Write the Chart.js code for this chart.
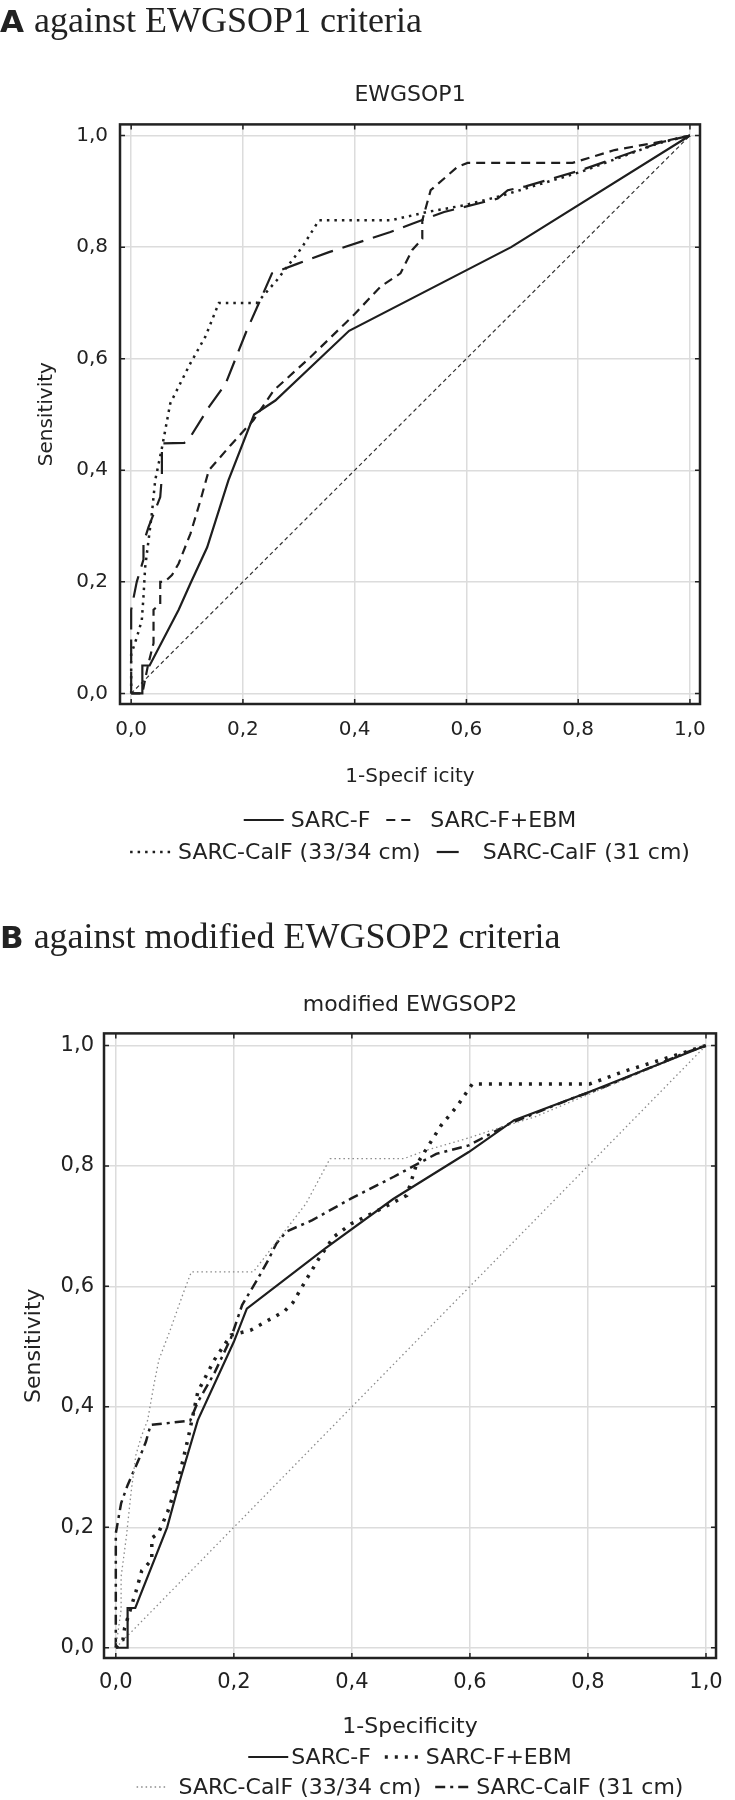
<!DOCTYPE html>
<html>
<head>
<meta charset="utf-8">
<script src="https://cdn.jsdelivr.net/npm/chart.js@4.4.0/dist/chart.umd.min.js"></script>
<style>
    body { margin: 0; background: #fff; width: 735px; height: 1800px; position: relative; overflow: hidden; }
    .head { position: absolute; left: 0; z-index: 2; font-family: 'Liberation Serif', serif; font-size: 36px; line-height: 40px; color: #222; white-space: nowrap; }
    .head b { font-family: 'DejaVu Sans', sans-serif; font-size: 31px; margin-right: 10px; }
    canvas { position: absolute; left: 0; }
</style>
</head>
<body>
<div class="head" style="top:0px"><b>A</b>against EWGSOP1 criteria</div>
<canvas id="chartA" width="735" height="880" style="top:0"></canvas>
<div class="head" style="top:916px"><b>B</b>against modified EWGSOP2 criteria</div>
<canvas id="chartB" width="735" height="900" style="top:900px"></canvas>

<script>
    // tick values (both axes, both charts)
    const tickVals = [0, 0.2, 0.4, 0.6, 0.8, 1.0];

    // A: against EWGSOP1 -- [1-specificity, sensitivity]
    const aSarcF = [[0,0],[0.02,0],[0.02,0.05],[0.033,0.05],[0.085,0.15],[0.106,0.197],[0.136,0.262],[0.174,0.382],
        [0.22,0.50],[0.258,0.525],[0.39,0.65],[0.68,0.80],[1,1]];
    const aSarcFEbm = [[0,0],[0.02,0],[0.03,0.05],[0.04,0.09],[0.04,0.15],[0.052,0.16],[0.052,0.2],[0.06,0.2],[0.073,0.212],
        [0.085,0.233],[0.106,0.286],[0.124,0.346],[0.139,0.40],[0.178,0.445],[0.219,0.49],[0.255,0.543],[0.321,0.603],
        [0.40,0.68],[0.446,0.729],[0.482,0.753],[0.503,0.795],[0.521,0.815],[0.521,0.848],[0.536,0.902],[0.584,0.944],
        [0.602,0.951],[0.79,0.951],[0.865,0.974],[0.954,0.99],[1,1]];
    const aCalf3334 = [[0,0],[0,0.07],[0.01,0.1],[0.019,0.131],[0.022,0.173],[0.025,0.226],[0.031,0.274],[0.037,0.322],
        [0.043,0.382],[0.055,0.44],[0.07,0.52],[0.105,0.59],[0.133,0.64],[0.157,0.70],[0.225,0.70],[0.261,0.741],
        [0.306,0.80],[0.336,0.848],[0.464,0.848],[0.53,0.863],[0.596,0.875],[0.659,0.891],[0.805,0.935],[0.943,0.986],[1,1]];
    const aCalf31 = [[0,0],[0,0.15],[0.01,0.2],[0.022,0.24],[0.022,0.27],[0.031,0.298],[0.052,0.352],[0.055,0.39],
        [0.055,0.448],[0.095,0.449],[0.106,0.46],[0.139,0.513],[0.169,0.555],[0.207,0.651],[0.231,0.705],[0.252,0.753],
        [0.297,0.77],[0.354,0.791],[0.464,0.827],[0.503,0.842],[0.56,0.863],[0.656,0.887],[0.674,0.902],[0.706,0.909],
        [0.805,0.938],[0.948,0.988],[1,1]];

    // B: against modified EWGSOP2
    const bSarcF = [[0,0],[0.02,0],[0.02,0.066],[0.033,0.066],[0.087,0.2],[0.109,0.279],[0.139,0.378],[0.2,0.508],
        [0.222,0.563],[0.355,0.663],[0.47,0.745],[0.598,0.823],[0.675,0.876],[0.803,0.923],[1,1]];
    const bSarcFEbm = [[0,0],[0.012,0.013],[0.015,0.033],[0.034,0.093],[0.044,0.128],[0.061,0.146],[0.061,0.182],
        [0.072,0.19],[0.088,0.226],[0.106,0.279],[0.123,0.35],[0.139,0.425],[0.167,0.478],[0.195,0.519],[0.228,0.527],
        [0.286,0.559],[0.3,0.573],[0.322,0.61],[0.344,0.646],[0.369,0.682],[0.399,0.704],[0.438,0.723],[0.493,0.751],
        [0.509,0.801],[0.551,0.867],[0.579,0.90],[0.604,0.936],[0.803,0.936],[0.858,0.956],[0.93,0.978],[1,1]];
    const bCalf3334 = [[0,0],[0.009,0.063],[0.009,0.118],[0.018,0.185],[0.026,0.259],[0.034,0.32],[0.043,0.35],
        [0.054,0.378],[0.065,0.439],[0.073,0.478],[0.092,0.527],[0.114,0.588],[0.128,0.624],[0.233,0.624],[0.266,0.666],
        [0.322,0.737],[0.363,0.812],[0.488,0.812],[0.526,0.826],[0.593,0.845],[0.662,0.867],[0.709,0.881],[0.77,0.906],
        [0.858,0.942],[1,1]];
    const bCalf31 = [[0,0],[0,0.19],[0.009,0.24],[0.02,0.27],[0.04,0.315],[0.051,0.342],[0.059,0.37],[0.126,0.377],
        [0.139,0.408],[0.167,0.456],[0.195,0.514],[0.214,0.569],[0.239,0.61],[0.258,0.643],[0.272,0.671],[0.289,0.691],
        [0.333,0.71],[0.399,0.746],[0.471,0.782],[0.543,0.82],[0.598,0.834],[0.667,0.87],[0.77,0.911],[0.825,0.93],
        [0.968,0.989],[1,1]];

    const diagonal = [[0,0],[1,1]];

    Chart.defaults.font.family = "'DejaVu Sans', sans-serif";
    Chart.defaults.color = '#222';

    const ink = '#1e1e1e';
    const fmt = v => v.toFixed(1).replace('.', ',');

    function ds(label, pts, width, dash, color) {
        return {
            label: label,
            data: pts.map(p => ({x: p[0], y: p[1]})),
            borderColor: color || ink,
            borderWidth: width,
            borderDash: dash,
            borderCapStyle: 'butt',
            showLine: true,
            pointRadius: 0,
            fill: false,
            tension: 0
        };
    }

    // box + inner tick marks
    const framePlugin = {
        id: 'frame',
        afterDatasetsDraw(chart) {
            const ctx = chart.ctx, a = chart.chartArea, sx = chart.scales.x, sy = chart.scales.y;
            ctx.save();
            ctx.strokeStyle = '#222';
            ctx.lineWidth = 1.5;
            ctx.beginPath();
            sx.ticks.forEach(t => {
                const px = sx.getPixelForValue(t.value);
                ctx.moveTo(px, a.top); ctx.lineTo(px, a.top + 5);
                ctx.moveTo(px, a.bottom); ctx.lineTo(px, a.bottom - 5);
            });
            sy.ticks.forEach(t => {
                const py = sy.getPixelForValue(t.value);
                ctx.moveTo(a.left, py); ctx.lineTo(a.left + 5, py);
                ctx.moveTo(a.right, py); ctx.lineTo(a.right - 5, py);
            });
            ctx.stroke();
            ctx.lineWidth = 2.5;
            ctx.strokeRect(a.left, a.top, a.right - a.left, a.bottom - a.top);
            ctx.restore();
        }
    };

    // two-row legend centred under the plot
    function legendPlugin(L) {
        return {
            id: 'rocLegend',
            afterDraw(chart) {
                const ctx = chart.ctx, a = chart.chartArea;
                const mid = (a.left + a.right) / 2;
                ctx.save();
                ctx.font = L.font;
                ctx.textBaseline = 'middle';
                L.rows.forEach((row, r) => {
                    const items = row.map(i => {
                        const d = chart.data.datasets[i];
                        return {d: d, i: i, w: ctx.measureText(d.label).width};
                    });
                    let total = L.gapItem * (items.length - 1);
                    items.forEach(it => total += L.sampleW[it.i] + L.gapText[it.i] + it.w);
                    let x = mid - total / 2;
                    const y = L.y[r];
                    items.forEach(it => {
                        ctx.strokeStyle = it.d.borderColor;
                        ctx.lineWidth = it.d.borderWidth;
                        ctx.lineCap = 'butt';
                        ctx.setLineDash(it.d.borderDash || []);
                        ctx.beginPath();
                        ctx.moveTo(x, y); ctx.lineTo(x + L.sampleW[it.i], y);
                        ctx.stroke();
                        ctx.setLineDash([]);
                        ctx.fillStyle = '#222';
                        ctx.fillText(it.d.label, x + L.sampleW[it.i] + L.gapText[it.i], y + 1);
                        x += L.sampleW[it.i] + L.gapText[it.i] + it.w + L.gapItem;
                    });
                });
                ctx.restore();
            }
        };
    }

    function rocChart(id, title, xTitle, datasets, L) {
        return new Chart(id, {
            type: 'scatter',
            data: {datasets: datasets},
            options: {
                responsive: false,
                animation: false,
                layout: {padding: {top: 0, left: 0, right: L.padRight, bottom: 0}},
                plugins: {
                    legend: {display: false},
                    tooltip: {enabled: false},
                    title: {
                        display: true, text: title, fullSize: false,
                        font: {size: 22, weight: 'normal'},
                        padding: {top: L.titleTop, bottom: L.titleBottom}
                    }
                },
                scales: {
                    x: {
                        type: 'linear', min: -0.02, max: L.xMax,
                        afterBuildTicks: s => { s.ticks = tickVals.map(v => ({value: v})); },
                        afterFit: s => { s.height = L.xAxisH; },
                        grid: {color: '#dcdcdc', lineWidth: 1.5, drawTicks: false},
                        border: {display: false},
                        ticks: {font: {size: L.tickSize}, padding: L.xTickPad, callback: v => fmt(v), maxRotation: 0},
                        title: {display: true, text: xTitle, font: {size: L.axisSize}, padding: {top: 0, bottom: L.xTitlePad}}
                    },
                    y: {
                        type: 'linear', min: L.yMin, max: 1.02,
                        afterBuildTicks: s => { s.ticks = tickVals.map(v => ({value: v})); },
                        afterFit: s => { s.width = L.yAxisW; },
                        grid: {color: '#dcdcdc', lineWidth: 1.5, drawTicks: false},
                        border: {display: false},
                        ticks: {font: {size: L.tickSize}, padding: L.yTickPad, callback: v => fmt(v)},
                        title: {display: true, text: 'Sensitivity', font: {size: L.axisSize}, padding: {top: L.yTitlePad, bottom: 0}}
                    }
                }
            },
            plugins: [framePlugin, legendPlugin(L.legend)]
        });
    }

    const chartA = rocChart('chartA', 'EWGSOP1', '1-Specif icity', [
        ds('SARC-F', aSarcF, 2.2, []),
        ds('SARC-F+EBM', aSarcFEbm, 2.2, [9, 6]),
        ds('SARC-CalF (33/34 cm)', aCalf3334, 2.5, [2.5, 5]),
        ds('SARC-CalF (31 cm)', aCalf31, 2.2, [22, 10]),
        ds('', diagonal, 1.2, [4, 3], '#333')
    ], {padRight: 35, titleTop: 82, titleBottom: 16, xMax: 1.018, yMin: -0.019, xAxisH: 176, xTickPad: 14,
        xTitlePad: 91, yAxisW: 120, yTickPad: 12, yTitlePad: 35, tickSize: 20, axisSize: 20,
        legend: {font: "22px 'DejaVu Sans'", rows: [[0, 1], [2, 3]], y: [820, 852],
            sampleW: [40, 30, 45, 31], gapText: [7, 14, 3, 15], gapItem: 16}});

    const chartB = rocChart('chartB', 'modified EWGSOP2', '1-Specificity', [
        ds('SARC-F', bSarcF, 2.2, []),
        ds('SARC-F+EBM', bSarcFEbm, 3.5, [3, 7]),
        ds('SARC-CalF (33/34 cm)', bCalf3334, 1.3, [1.5, 3], '#8a8a8a'),
        ds('SARC-CalF (31 cm)', bCalf31, 2.5, [10, 5, 3, 5]),
        ds('', diagonal, 1.3, [1.5, 3], '#8a8a8a')
    ], {padRight: 6, titleTop: 92, titleBottom: 15, xMax: 1.017, yMin: -0.017, xAxisH: 142, xTickPad: 12,
        xTitlePad: 60, yAxisW: 104, yTickPad: 10, yTitlePad: 21, tickSize: 21, axisSize: 22,
        legend: {font: "22px 'DejaVu Sans'", rows: [[0, 1], [2, 3]], y: [857, 887],
            sampleW: [40, 35, 30, 37], gapText: [3, 6, 12, 4], gapItem: 14}});
</script>
</body>
</html>
